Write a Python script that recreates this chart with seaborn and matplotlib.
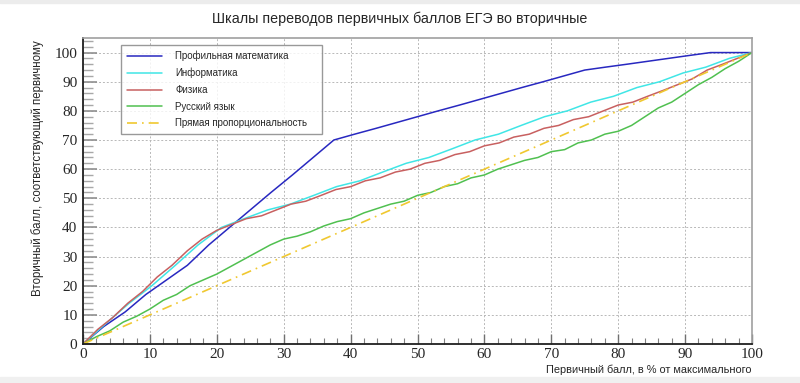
import pandas as pd
import seaborn as sns
import matplotlib.pyplot as plt
from matplotlib.lines import Line2D
from matplotlib.patches import Rectangle
from matplotlib.ticker import MultipleLocator

# Профильная математика: первичный балл в % от 32
math_x = [0, 3.1, 6.3, 9.4, 12.5, 15.6, 18.8, 21.9, 25.0, 28.1, 31.3, 34.4, 37.5,
          40.6, 43.8, 46.9, 50.0, 53.1, 56.3, 59.4, 62.5, 65.6, 68.8, 71.9, 75.0,
          78.1, 81.3, 84.4, 87.5, 90.6, 93.8, 96.9, 100]
math_y = [0, 6, 11, 17, 22, 27, 34, 40, 46, 52, 58, 64, 70,
          72, 74, 76, 78, 80, 82, 84, 86, 88, 90, 92, 94,
          95, 96, 97, 98, 99, 100, 100, 100]

# Информатика: в % от 29
inf_x = [0, 3.4, 6.9, 10.3, 13.8, 17.2, 20.7, 24.1, 27.6, 31.0, 34.5, 37.9, 41.4,
         44.8, 48.3, 51.7, 55.2, 58.6, 62.1, 65.5, 69.0, 72.4, 75.9, 79.3, 82.8,
         86.2, 89.7, 93.1, 96.6, 100]
inf_y = [0, 7, 14, 20, 27, 34, 40, 43, 46, 48, 51, 54, 56,
         59, 62, 64, 67, 70, 72, 75, 78, 80, 83, 85, 88,
         90, 93, 95, 98, 100]

# Физика: в % от 45
phys_x = [0, 2.2, 4.4, 6.7, 8.9, 11.1, 13.3, 15.6, 17.8, 20.0, 22.2, 24.4, 26.7,
          28.9, 31.1, 33.3, 35.6, 37.8, 40.0, 42.2, 44.4, 46.7, 48.9, 51.1, 53.3,
          55.6, 57.8, 60.0, 62.2, 64.4, 66.7, 68.9, 71.1, 73.3, 75.6, 77.8, 80.0,
          82.2, 84.4, 86.7, 88.9, 91.1, 93.3, 95.6, 97.8, 100]
phys_y = [0, 5, 9, 14, 18, 23, 27, 32, 36, 39, 41, 43, 44,
          46, 48, 49, 51, 53, 54, 56, 57, 59, 60, 62, 63,
          65, 66, 68, 69, 71, 72, 74, 75, 77, 78, 80, 82,
          83, 85, 87, 89, 91, 94, 96, 98, 100]

# Русский язык: в % от 50
rus_x = [0, 2, 4, 6, 8, 10, 12, 14, 16, 18, 20, 22, 24, 26, 28, 30, 32, 34, 36,
         38, 40, 42, 44, 46, 48, 50, 52, 54, 56, 58, 60, 62, 64, 66, 68, 70, 72,
         74, 76, 78, 80, 82, 84, 86, 88, 90, 92, 94, 96, 98, 100]
rus_y = [0, 2.5, 4.5, 7.5, 9.5, 12, 15, 17, 20, 22, 24, 26.5, 29, 31.5, 34, 36,
         37, 38.5, 40.5, 42, 43, 45, 46.5, 48, 49, 51, 52, 54, 55, 57, 58, 60,
         61.5, 63, 64, 66, 66.7, 69, 70, 72, 73, 75, 78, 81, 83, 86, 89, 91.5,
         94.5, 97, 100]

# Прямая пропорциональность
prop_x = [0, 100]
prop_y = [0, 100]

subjects = ["Профильная математика", "Информатика", "Физика", "Русский язык"]
colors = ["#2828c0", "#40e6e6", "#c86060", "#50c050"]
prop_label = "Прямая пропорциональность"
prop_color = "#f0c830"

df = pd.concat([
    pd.DataFrame({"x": xs, "y": ys, "subject": name})
    for name, xs, ys in zip(subjects, [math_x, inf_x, phys_x, rus_x],
                            [math_y, inf_y, phys_y, rus_y])
])

sns.set_style("white")
plt.rcParams["font.family"] = ["Liberation Sans", "DejaVu Sans"]

fig = plt.figure(figsize=(8, 3.83), dpi=100)
ax = fig.add_axes([83 / 800, 1 - 344 / 383, 669 / 800, 306 / 383])

sns.lineplot(data=df, x="x", y="y", hue="subject", hue_order=subjects,
             palette=dict(zip(subjects, colors)), sort=False, estimator=None,
             lw=1.1, ax=ax, legend=False)
sns.lineplot(x=prop_x, y=prop_y, color=prop_color, lw=1.2,
             linestyle=(0, (6, 3, 1, 3)), ax=ax)

ax.set_xlim(0, 100)
ax.set_ylim(0, 105)
ax.xaxis.set_major_locator(MultipleLocator(10))
ax.xaxis.set_minor_locator(MultipleLocator(2))
ax.set_yticks(range(0, 101, 10))
ax.yaxis.set_minor_locator(MultipleLocator(2))
ax.set_xlabel("")
ax.set_ylabel("")

ax.grid(True, which="major", color="#b8b8b8", lw=0.7, linestyle=(0, (2, 2)))
ax.tick_params(which="both", bottom=True, left=True, top=False, right=False)
ax.tick_params(axis="y", which="major", direction="in", length=10, width=1.2,
               color="#909090", pad=4)
ax.tick_params(axis="y", which="minor", direction="in", length=7, width=1.0,
               color="#a8a8a8")
ax.tick_params(axis="x", which="major", direction="in", length=7, width=1.0,
               color="#707070", pad=3)
ax.tick_params(axis="x", which="minor", direction="in", length=4, width=0.8,
               color="#808080")
for lbl in ax.get_xticklabels() + ax.get_yticklabels():
    lbl.set_fontfamily("Liberation Serif")
    lbl.set_fontsize(11)

for side in ["left", "bottom"]:
    ax.spines[side].set_color("#202020")
    ax.spines[side].set_linewidth(1.3)
for side in ["top", "right"]:
    ax.spines[side].set_color("#a0a0a0")
    ax.spines[side].set_linewidth(1.2)

handles = [Line2D([], [], color=c, lw=1.1) for c in colors]
handles.append(Line2D([], [], color=prop_color, lw=1.2, linestyle=(0, (6, 3, 1, 3))))
leg = ax.legend(handles, subjects + [prop_label], loc="upper left",
                bbox_to_anchor=(38 / 669, 0.3, 201 / 669, 0.677), mode="expand",
                borderaxespad=0, fontsize=7.0, handlelength=3.6,
                handletextpad=1.4, labelspacing=0.68, borderpad=0.6,
                frameon=True, fancybox=False, edgecolor="#808080")
leg.get_frame().set_linewidth(1.0)

fig.text(0.5, 1 - 19 / 383, "Шкалы переводов первичных баллов ЕГЭ во вторичные",
         ha="center", va="center", fontsize=10.3, family=["Liberation Sans", "DejaVu Sans"])
fig.text(38 / 800, 1 - 40 / 383, "Вторичный балл, соответствующий первичному",
         rotation=90, ha="center", va="top", fontsize=8.3,
         family=["Liberation Sans", "DejaVu Sans"])
fig.text(752 / 800, 1 - 370 / 383, "Первичный балл, в % от максимального",
         ha="right", va="center", fontsize=7.9,
         family=["Liberation Sans", "DejaVu Sans"])

fig.patches.append(Rectangle((0, 1 - 3 / 383), 1, 3 / 383, transform=fig.transFigure,
                             color="#ececec", zorder=0))
fig.patches.append(Rectangle((0, 0), 1, 6 / 383, transform=fig.transFigure,
                             color="#f0f0f0", zorder=0))

fig.savefig("out.png", dpi=100)
